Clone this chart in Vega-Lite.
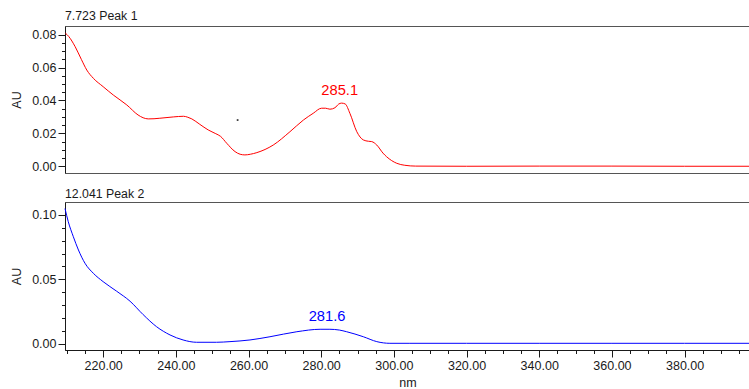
{
  "$schema": "https://vega.github.io/schema/vega-lite/v6.json",
  "padding": {"left": 10, "top": 9, "right": 0, "bottom": 0},
  "background": "white",
  "config": {
    "font": "Liberation Sans",
    "view": {"stroke": "#555555", "strokeWidth": 1},
    "axis": {
      "grid": false,
      "labelFont": "Liberation Sans",
      "labelFontSize": 12.5,
      "labelColor": "#1a1a1a",
      "tickColor": "#1a1a1a",
      "domainColor": "#1a1a1a",
      "titleFont": "Liberation Sans",
      "titleFontSize": 12.5,
      "titleFontWeight": "normal",
      "titleColor": "#1a1a1a"
    },
    "title": {"font": "Liberation Sans", "fontWeight": "normal", "color": "#1a1a1a"}
  },
  "datasets": {
    "peak1": [
      {"nm": 209.6, "au": 0.0810}, {"nm": 210.5, "au": 0.0790}, {"nm": 212.3, "au": 0.0727},
      {"nm": 214.0, "au": 0.0650}, {"nm": 215.5, "au": 0.0585}, {"nm": 217.3, "au": 0.0535},
      {"nm": 220.0, "au": 0.0484}, {"nm": 222.8, "au": 0.0433}, {"nm": 226.5, "au": 0.0373},
      {"nm": 229.6, "au": 0.0312}, {"nm": 231.0, "au": 0.0295}, {"nm": 232.4, "au": 0.0288},
      {"nm": 234.0, "au": 0.0289}, {"nm": 235.6, "au": 0.0292}, {"nm": 239.3, "au": 0.0300},
      {"nm": 242.1, "au": 0.0304}, {"nm": 243.3, "au": 0.0298}, {"nm": 244.4, "au": 0.0288},
      {"nm": 246.6, "au": 0.0255}, {"nm": 248.9, "au": 0.0221}, {"nm": 251.0, "au": 0.0198},
      {"nm": 252.3, "au": 0.0182}, {"nm": 254.0, "au": 0.0140}, {"nm": 256.3, "au": 0.0089},
      {"nm": 257.7, "au": 0.0073}, {"nm": 259.0, "au": 0.0069}, {"nm": 260.5, "au": 0.0073},
      {"nm": 262.3, "au": 0.0083}, {"nm": 266.8, "au": 0.0129}, {"nm": 271.4, "au": 0.0210},
      {"nm": 275.1, "au": 0.0281}, {"nm": 277.8, "au": 0.0322}, {"nm": 280.1, "au": 0.0353},
      {"nm": 281.2, "au": 0.0353}, {"nm": 282.4, "au": 0.0347}, {"nm": 283.8, "au": 0.0356},
      {"nm": 284.8, "au": 0.0378}, {"nm": 285.6, "au": 0.0384}, {"nm": 286.6, "au": 0.0379},
      {"nm": 287.9, "au": 0.0322}, {"nm": 289.8, "au": 0.0210}, {"nm": 291.6, "au": 0.0160},
      {"nm": 293.0, "au": 0.0152}, {"nm": 293.9, "au": 0.0150}, {"nm": 295.3, "au": 0.0129},
      {"nm": 297.0, "au": 0.0080}, {"nm": 298.0, "au": 0.0058}, {"nm": 300.8, "au": 0.0018},
      {"nm": 303.0, "au": 0.0006}, {"nm": 306.0, "au": 0.0001}, {"nm": 320.0, "au": 0.0000},
      {"nm": 340.0, "au": 0.0001}, {"nm": 360.0, "au": 0.0001}, {"nm": 380.0, "au": 0.0000},
      {"nm": 398.0, "au": 0.0000}
    ],
    "peak2": [
      {"nm": 209.5, "au": 0.1050}, {"nm": 210.4, "au": 0.0948}, {"nm": 211.8, "au": 0.0831},
      {"nm": 213.2, "au": 0.0728}, {"nm": 215.0, "au": 0.0625}, {"nm": 217.3, "au": 0.0547},
      {"nm": 220.0, "au": 0.0482}, {"nm": 223.7, "au": 0.0408}, {"nm": 227.4, "au": 0.0330},
      {"nm": 231.0, "au": 0.0226}, {"nm": 234.7, "au": 0.0132}, {"nm": 238.4, "au": 0.0068},
      {"nm": 242.0, "au": 0.0029}, {"nm": 245.7, "au": 0.0011}, {"nm": 251.2, "au": 0.0011},
      {"nm": 254.9, "au": 0.0016}, {"nm": 260.4, "au": 0.0029}, {"nm": 265.9, "au": 0.0054},
      {"nm": 273.3, "au": 0.0093}, {"nm": 279.7, "au": 0.0112}, {"nm": 282.4, "au": 0.0112},
      {"nm": 285.0, "au": 0.0106}, {"nm": 287.0, "au": 0.0093}, {"nm": 291.6, "au": 0.0054},
      {"nm": 295.3, "au": 0.0016}, {"nm": 298.9, "au": 0.0003}, {"nm": 304.4, "au": 0.0003},
      {"nm": 320.0, "au": 0.0003}, {"nm": 340.0, "au": 0.0003}, {"nm": 360.0, "au": 0.0003},
      {"nm": 380.0, "au": 0.0003}, {"nm": 398.0, "au": 0.0003}
    ],
    "lab1": [{"nm": 285.1, "au": 0.0384, "label": "285.1"}],
    "lab2": [{"nm": 281.6, "au": 0.0112, "label": "281.6"}],
    "dot1": [{"nm": 257.0, "au": 0.0281}]
  },
  "spacing": 13,
  "vconcat": [
    {
      "width": 685,
      "height": 147,
      "title": {"text": "7.723 Peak 1", "anchor": "start", "frame": "group", "fontSize": 12.3, "offset": 4},
      "resolve": {"axis": {"y": "independent"}},
      "layer": [
        {
          "data": {"name": "peak1"},
          "mark": {"type": "line", "color": "#ff0000", "strokeWidth": 1, "interpolate": "monotone"},
          "encoding": {
            "x": {"field": "nm", "type": "quantitative", "scale": {"domain": [209.5, 398], "nice": false, "zero": false},
                  "axis": {"labels": false, "ticks": false, "title": null}},
            "y": {"field": "au", "type": "quantitative", "scale": {"domain": [-0.0041, 0.0853], "nice": false, "zero": false},
                  "axis": {"orient": "left", "values": [0, 0.02, 0.04, 0.06, 0.08], "format": ".2f", "tickSize": 7, "labelPadding": 2, "title": "AU", "titlePadding": 8}}
          }
        },
        {
          "data": {"name": "peak1"},
          "mark": {"type": "point", "opacity": 0},
          "encoding": {
            "x": {"field": "nm", "type": "quantitative", "axis": {"labels": false, "ticks": false, "title": null}},
            "y": {"field": "au", "type": "quantitative",
                  "axis": {"orient": "left", "values": [0.005, 0.01, 0.015, 0.025, 0.03, 0.035, 0.045, 0.05, 0.055, 0.065, 0.07, 0.075], "labels": false, "domain": false, "tickSize": 3.5, "title": null}}
          }
        },
        {
          "data": {"name": "lab1"},
          "mark": {"type": "text", "color": "#ff0000", "fontSize": 14.7, "baseline": "bottom", "dy": -5, "font": "Liberation Sans"},
          "encoding": {
            "x": {"field": "nm", "type": "quantitative", "axis": null},
            "y": {"field": "au", "type": "quantitative", "axis": null},
            "text": {"field": "label"}
          }
        },
        {
          "data": {"name": "dot1"},
          "mark": {"type": "square", "color": "#333333", "size": 3, "opacity": 1, "filled": true},
          "encoding": {
            "x": {"field": "nm", "type": "quantitative", "axis": null},
            "y": {"field": "au", "type": "quantitative", "axis": null}
          }
        }
      ]
    },
    {
      "width": 685,
      "height": 148,
      "title": {"text": "12.041 Peak 2", "anchor": "start", "frame": "group", "fontSize": 12.3, "offset": 2},
      "resolve": {"axis": {"x": "independent", "y": "independent"}},
      "layer": [
        {
          "data": {"name": "peak2"},
          "mark": {"type": "line", "color": "#0000ff", "strokeWidth": 1, "interpolate": "monotone"},
          "encoding": {
            "x": {"field": "nm", "type": "quantitative", "scale": {"domain": [209.5, 398], "nice": false, "zero": false},
                  "axis": {"orient": "bottom", "values": [220, 240, 260, 280, 300, 320, 340, 360, 380], "format": ".2f", "tickSize": 7, "labelPadding": 2, "title": "nm", "titlePadding": 5}},
            "y": {"field": "au", "type": "quantitative", "scale": {"domain": [-0.0049, 0.1101], "nice": false, "zero": false},
                  "axis": {"orient": "left", "values": [0, 0.05, 0.1], "format": ".2f", "tickSize": 7, "labelPadding": 2, "title": "AU", "titlePadding": 8}}
          }
        },
        {
          "data": {"name": "peak2"},
          "mark": {"type": "point", "opacity": 0},
          "encoding": {
            "x": {"field": "nm", "type": "quantitative",
                  "axis": {"orient": "bottom", "values": [210, 215, 225, 230, 235, 245, 250, 255, 265, 270, 275, 285, 290, 295, 305, 310, 315, 325, 330, 335, 345, 350, 355, 365, 370, 375, 385, 390, 395], "labels": false, "domain": false, "tickSize": 3.5, "title": null}},
            "y": {"field": "au", "type": "quantitative",
                  "axis": {"orient": "left", "values": [0.01, 0.02, 0.03, 0.04, 0.06, 0.07, 0.08, 0.09], "labels": false, "domain": false, "tickSize": 3.5, "title": null}}
          }
        },
        {
          "data": {"name": "lab2"},
          "mark": {"type": "text", "color": "#0000ff", "fontSize": 14.7, "baseline": "bottom", "dy": -5, "font": "Liberation Sans"},
          "encoding": {
            "x": {"field": "nm", "type": "quantitative", "axis": null},
            "y": {"field": "au", "type": "quantitative", "axis": null},
            "text": {"field": "label"}
          }
        }
      ]
    }
  ]
}
